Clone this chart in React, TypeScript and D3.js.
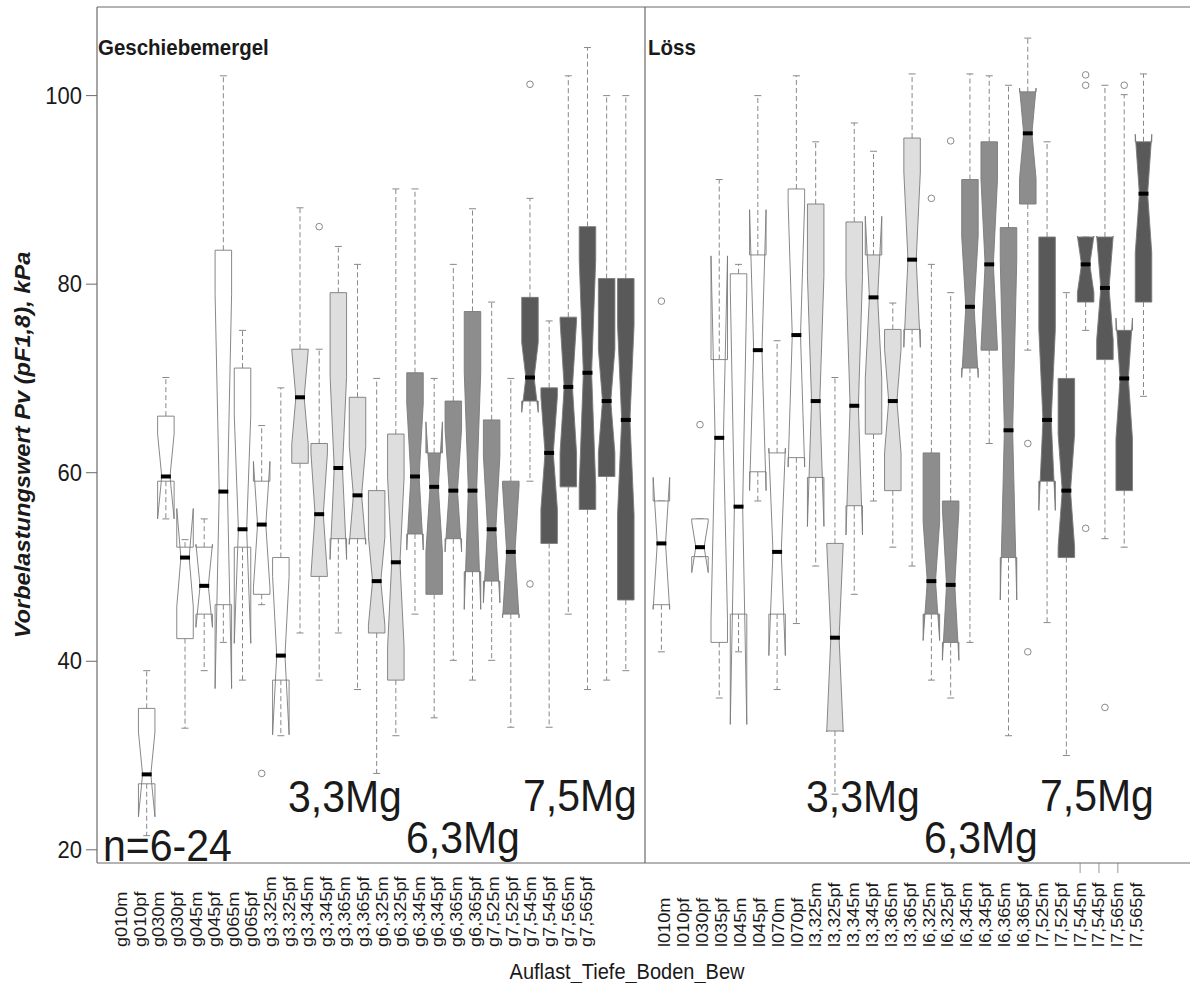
import React from "react";
import * as d3 from "d3";

const W = 1190;
const H = 983;

// ---------- data: Geschiebemergel ----------
const gCats = ["g010m","g010pf","g030m","g030pf","g045m","g045pf","g065m","g065pf","g3,325m","g3,325pf","g3,345m","g3,345pf","g3,365m","g3,365pf","g6,325m","g6,325pf","g6,345m","g6,345pf","g6,365m","g6,365pf","g7,525m","g7,525pf","g7,545m","g7,545pf","g7,565m","g7,565pf"];
const gLow = [21.5, 55.1, 32.9, 39.0, 42.0, 38.0, 46.0, 32.1, 43.0, 38.0, 43.0, 37.0, 28.1, 32.1, 45.0, 34.0, 40.1, 38.0, 40.1, 33.0, 59.1, 33.0, 45.0, 37.0, 38.0, 39.0];
const gQ1 = [27.0, 59.1, 42.4, 45.0, 46.0, 52.1, 47.1, 38.0, 61.0, 49.0, 53.0, 53.0, 43.0, 38.0, 53.5, 47.1, 53.0, 49.5, 48.5, 45.0, 67.6, 52.5, 58.5, 56.1, 59.6, 46.5];
const gMed = [28.0, 59.6, 51.0, 48.0, 58.0, 54.0, 54.5, 40.6, 68.0, 55.6, 60.5, 57.6, 48.5, 50.5, 59.6, 58.5, 58.1, 58.1, 54.0, 51.6, 70.1, 62.1, 69.1, 70.6, 67.6, 65.6];
const gQ3 = [35.0, 66.0, 52.1, 52.1, 83.6, 71.1, 59.1, 51.0, 73.1, 63.1, 79.1, 68.0, 58.1, 64.1, 70.6, 62.1, 67.6, 77.1, 65.6, 59.1, 78.6, 69.0, 76.5, 86.1, 80.6, 80.6];
const gHigh = [39.0, 70.1, 52.9, 55.1, 102.1, 75.1, 65.0, 69.0, 88.1, 73.1, 84.0, 82.1, 70.0, 90.1, 90.1, 70.0, 82.1, 88.0, 78.1, 70.0, 89.1, 76.1, 102.1, 105.1, 100.0, 100.0];
const gNotch = [4.5, 4.5, 5.2, 4.4, 20.9, 12.1, 6.7, 8.4, 5.0, 6.5, 9.7, 5.2, 4.7, 9.0, 7.8, 6.9, 6.5, 12.6, 7.8, 7.0, 3.7, 6.0, 7.0, 12.0, 5.5, 10.0];
const gOut = [[],[],[],[],[],[],[28.1],[],[],[86.1],[],[],[],[],[],[],[],[],[],[],[101.2,48.2],[],[],[],[],[]];

// ---------- data: Löss ----------
const lCats = ["l010m","l010pf","l030pf","l035pf","l045m","l045pf","l070m","l070pf","l3,325m","l3,325pf","l3,345m","l3,345pf","l3,365m","l3,365pf","l6,325m","l6,325pf","l6,345m","l6,345pf","l6,365m","l6,365pf","l7,525m","l7,525pf","l7,545m","l7,545pf","l7,565m","l7,565pf"];
const lLow = [41.0, null, 51.1, 36.1, 41.0, 57.0, 37.0, 44.0, 50.1, 25.9, 47.1, 57.0, 52.1, 50.1, 38.0, 36.1, 42.0, 63.1, 32.1, 73.0, 44.1, 30.0, 75.1, 53.0, 52.1, 68.1];
const lQ1 = [46.0, null, 51.1, 42.0, 45.0, 60.1, 45.0, 61.6, 59.5, 32.6, 56.5, 64.1, 58.1, 75.2, 45.0, 42.0, 71.1, 73.0, 51.0, 88.5, 59.1, 51.0, 78.1, 72.0, 58.1, 78.1];
const lMed = [52.5, null, 52.1, 63.7, 56.4, 73.0, 51.6, 74.6, 67.6, 42.5, 67.1, 78.6, 67.6, 82.6, 48.5, 48.1, 77.6, 82.1, 64.5, 96.0, 65.6, 58.1, 82.1, 79.6, 70.0, 89.6];
const lQ3 = [57.0, null, 55.1, 72.0, 81.1, 83.1, 62.1, 90.1, 88.5, 52.5, 86.6, 83.1, 75.2, 95.5, 62.1, 57.0, 91.1, 95.1, 86.0, 100.4, 85.0, 70.0, 85.0, 85.0, 75.1, 95.1];
const lHigh = [57.0, null, 55.1, 91.1, 82.1, 100.0, 74.0, 102.1, 95.1, 70.1, 97.1, 94.1, 78.0, 102.3, 82.1, 79.1, 102.3, 102.1, 101.1, 106.1, 95.1, 79.1, 85.0, 101.1, 100.1, 102.3];
const lNotch = [7.0, null, 2.7, 19.3, 23.1, 14.9, 11.0, 14.0, 13.3, 10.0, 13.7, 8.6, 5.5, 9.3, 6.3, 8.0, 7.5, 9.0, 18.0, 4.8, 9.6, 6.0, 3.0, 5.5, 6.4, 6.3];
const lOut = [[78.2],[],[65.1],[],[],[],[],[],[],[],[],[],[],[],[89.1],[95.2],[],[],[],[63.1,41.0],[],[],[102.2,101.1,54.1],[35.1],[101.1],[]];

const yTicks = [20, 40, 60, 80, 100];
const loadLabels = ["3,3Mg", "6,3Mg", "7,5Mg"];

const FONT = "'Liberation Sans', Arial, Helvetica, sans-serif";
const FILLS: Record<string, string> = { "0": "#ffffff", "3": "#dedede", "6": "#8d8d8d", "7": "#595959" };

const y = d3.scaleLinear().domain([18.6, 109.4]).range([863, 7]);

const panels = [
  { title: "Geschiebemergel", cats: gCats, low: gLow, q1: gQ1, med: gMed, q3: gQ3, high: gHigh, notch: gNotch, out: gOut,
    box: [146.7, 625.8], lab: [121.7, 586.7], titleX: 98, ann: [[288, 812], [406, 853], [523, 811]], ticks: [] as number[] },
  { title: "Löss", cats: lCats, low: lLow, q1: lQ1, med: lMed, q3: lQ3, high: lHigh, notch: lNotch, out: lOut,
    box: [661.4, 1143.5], lab: [665, 1136.7], titleX: 648, ann: [[806, 812], [924, 853], [1040, 811]], ticks: [22, 23, 24] },
];

const SY = 1.1; // vertical text stretch of the original

function T({ x, y: yy, size, children, anchor = "start", weight = "normal", style = "normal", rotate = false, dy = "0" }: any) {
  const tr = `translate(${x},${yy}) scale(1,${SY})${rotate ? " rotate(-90)" : ""}`;
  return (
    <text transform={tr} fontFamily={FONT} fontSize={size} textAnchor={anchor} fontWeight={weight} fontStyle={style} dy={dy} fill="#1a1a1a">
      {children}
    </text>
  );
}

export default function App() {
  const hw = 8.25;
  const line = d3.line();
  return (
    <svg width={W} height={H} style={{ position: "absolute", left: 0, top: 0, background: "#fff" }}>
      <rect x={0} y={0} width={W} height={H} fill="#fff" />
      {panels.map((p, pi) => {
        const xs = d3.scaleLinear().domain([1, p.cats.length]).range(p.box);
        const xl = d3.scaleLinear().domain([0, p.cats.length - 1]).range(p.lab);
        return (
          <g key={pi}>
            {p.cats.map((c, i) => {
              if (p.med[i] == null) return null;
              const x = xs(i + 1);
              const q1 = p.q1[i] as number, q3 = p.q3[i] as number, med = p.med[i] as number;
              const lo = p.low[i] as number, hi = p.high[i] as number, ci = p.notch[i] as number;
              const nLo = med - ci, nHi = med + ci;
              const pts: [number, number][] = [
                [x - hw, y(q1)], [x - hw, y(nLo)], [x - hw / 2, y(med)], [x - hw, y(nHi)], [x - hw, y(q3)],
                [x + hw, y(q3)], [x + hw, y(nHi)], [x + hw / 2, y(med)], [x + hw, y(nLo)], [x + hw, y(q1)],
              ];
              const fill = FILLS[c[1]] || "#fff";
              return (
                <g key={c}>
                  <line x1={x} x2={x} y1={y(q3)} y2={y(hi)} stroke="#888" strokeWidth={1} strokeDasharray="5,3" />
                  <line x1={x} x2={x} y1={y(q1)} y2={y(lo)} stroke="#888" strokeWidth={1} strokeDasharray="5,3" />
                  <line x1={x - 3.5} x2={x + 3.5} y1={y(hi)} y2={y(hi)} stroke="#888" strokeWidth={1} />
                  <line x1={x - 3.5} x2={x + 3.5} y1={y(lo)} y2={y(lo)} stroke="#888" strokeWidth={1} />
                  <path d={line(pts) + "Z"} fill={fill} stroke="#7a7a7a" strokeWidth={0.9} />
                  <line x1={x - 5} x2={x + 5} y1={y(med)} y2={y(med)} stroke="#000" strokeWidth={4} />
                  {(p.out[i] as number[]).map((v, k) => (
                    <circle key={k} cx={x} cy={y(v)} r={3.3} fill="none" stroke="#888" strokeWidth={1} />
                  ))}
                </g>
              );
            })}
            {p.cats.map((c, i) => (
              <T key={"lab" + c} x={xl(i)} y={947} size={16.5} rotate dy="0.33em">{c}</T>
            ))}
            {p.ticks.map((i) => (
              <line key={"tk" + i} x1={xl(i)} x2={xl(i)} y1={863} y2={873} stroke="#999" strokeWidth={1} />
            ))}
            <T x={p.titleX} y={55} size={20.5} weight="bold">{p.title}</T>
            {loadLabels.map((t, k) => (
              <T key={"ann" + k} x={p.ann[k][0]} y={p.ann[k][1]} size={41}>{t}</T>
            ))}
          </g>
        );
      })}
      <T x={103} y={861} size={41}>n=6-24</T>

      {/* frame */}
      <line x1={97} x2={W} y1={7} y2={7} stroke="#6a6a6a" strokeWidth={1.2} />
      <line x1={97} x2={W} y1={863} y2={863} stroke="#6a6a6a" strokeWidth={1.2} />
      <line x1={97} x2={97} y1={7} y2={863} stroke="#6a6a6a" strokeWidth={1.2} />
      <line x1={645} x2={645} y1={7} y2={863} stroke="#6a6a6a" strokeWidth={1.2} />

      {/* y axis */}
      {yTicks.map((t) => (
        <g key={t}>
          <line x1={86} x2={97} y1={y(t)} y2={y(t)} stroke="#6a6a6a" strokeWidth={1} />
          <T x={82} y={y(t) + 8} size={22} anchor="end">{t}</T>
        </g>
      ))}
      <T x={30} y={445} size={21.5} weight="bold" style="italic" anchor="middle" rotate>
        Vorbelastungswert Pv (pF1,8), kPa
      </T>
      <T x={627} y={979} size={20} anchor="middle">Auflast_Tiefe_Boden_Bew</T>
    </svg>
  );
}
